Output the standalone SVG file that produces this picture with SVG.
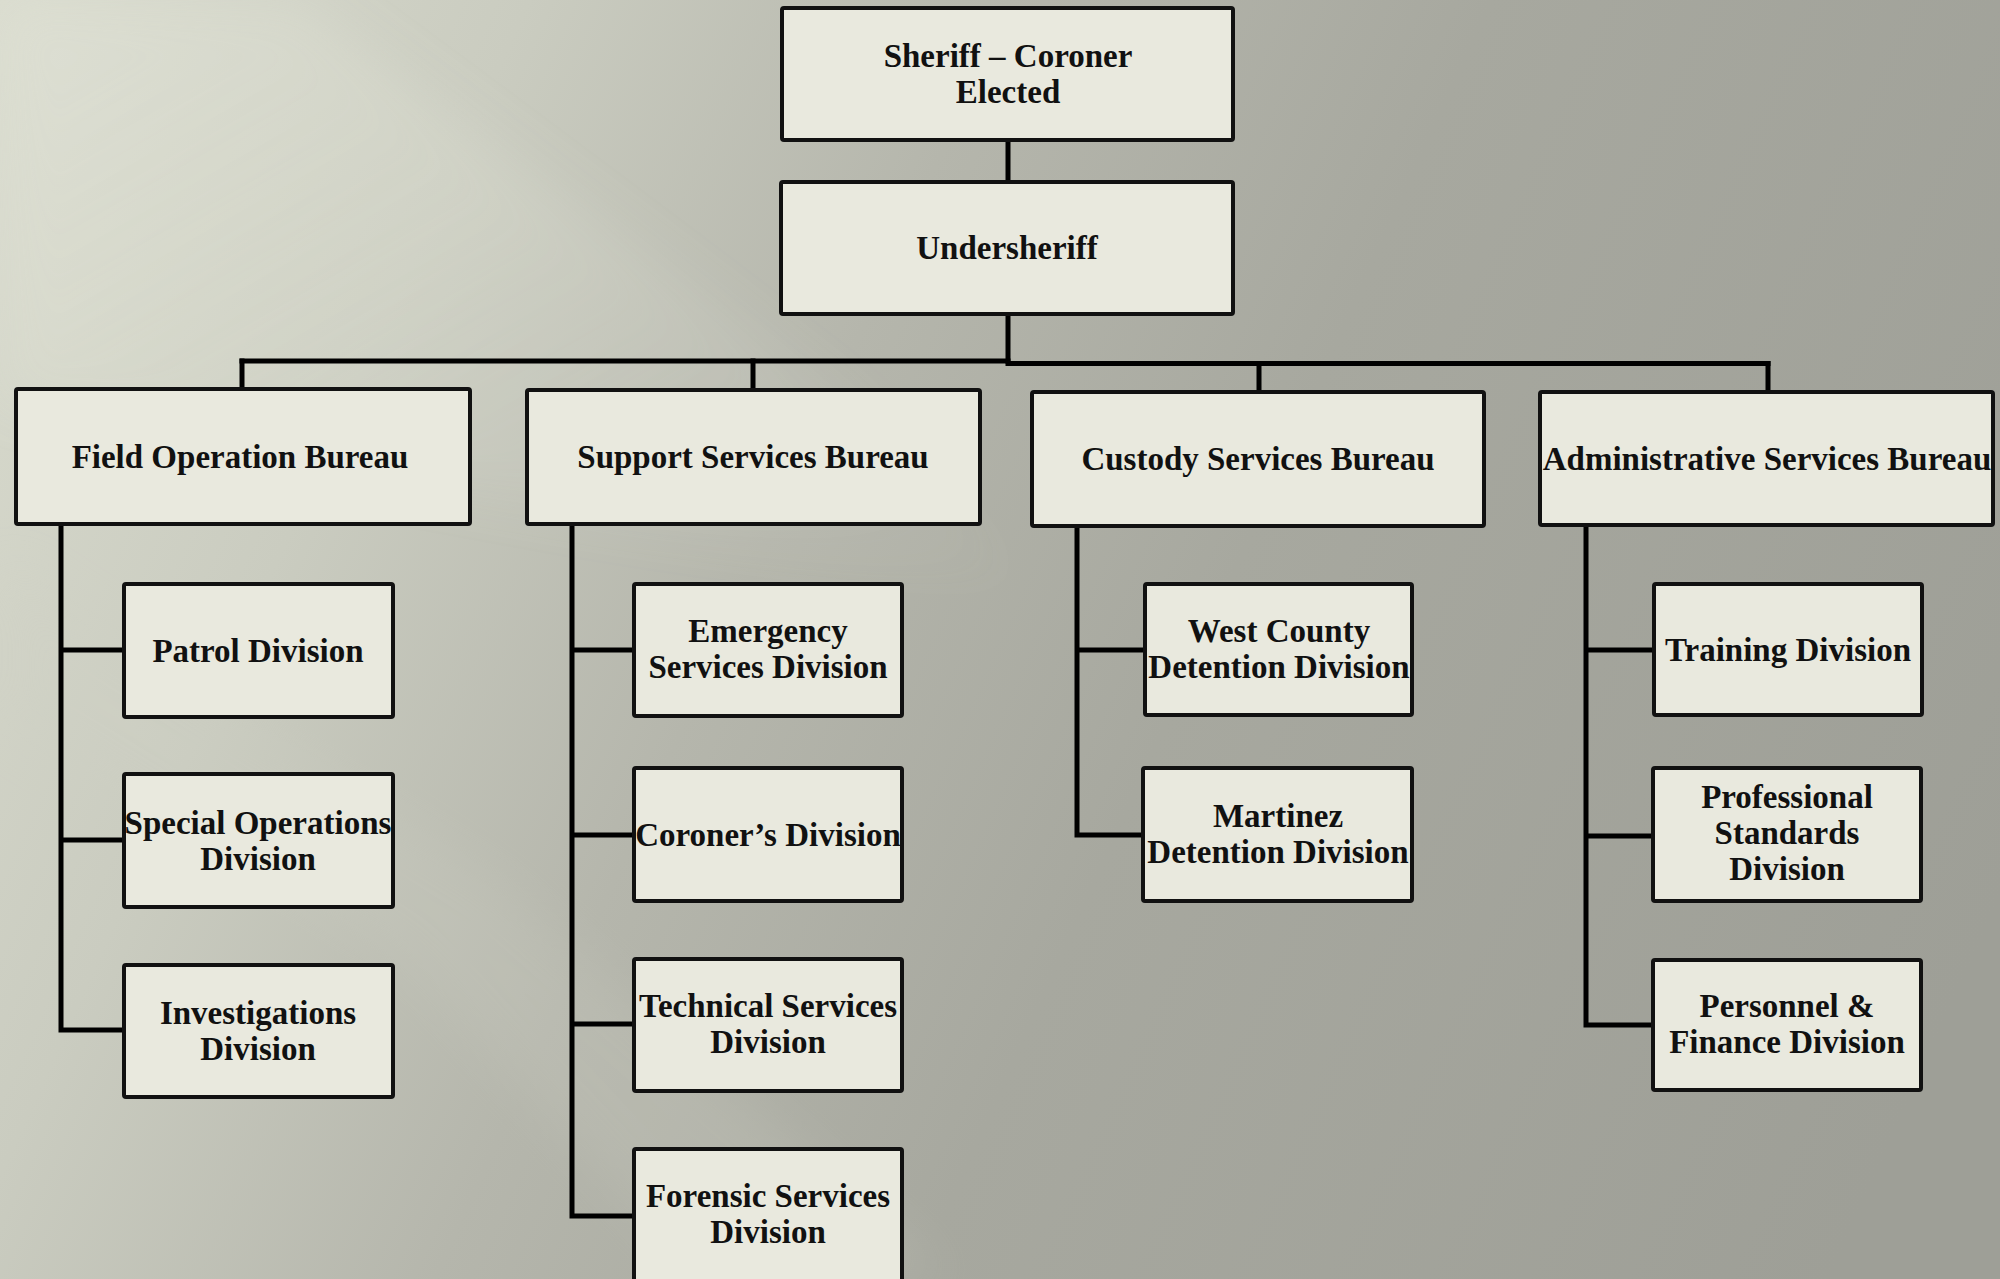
<svg xmlns="http://www.w3.org/2000/svg" width="2000" height="1279" viewBox="0 0 2000 1279">
<defs>
<linearGradient id="bg" x1="0" y1="0" x2="2000" y2="900" gradientUnits="userSpaceOnUse">
<stop offset="0" stop-color="#dadccf"/>
<stop offset="0.22" stop-color="#caccc0"/>
<stop offset="0.42" stop-color="#b5b6ac"/>
<stop offset="0.62" stop-color="#a7a89f"/>
<stop offset="1" stop-color="#9e9f97"/>
</linearGradient>
<linearGradient id="band" x1="0" y1="0" x2="1" y2="1">
<stop offset="0" stop-color="#e2e4d8" stop-opacity="0.6"/>
<stop offset="1" stop-color="#e2e4d8" stop-opacity="0"/>
</linearGradient>
<filter id="blur" x="-20%" y="-20%" width="140%" height="140%"><feGaussianBlur stdDeviation="25"/></filter>
<style>
.box{fill:#e9e9de;stroke:#111;stroke-width:4}
.t{font-family:"Liberation Serif","Times New Roman",serif;font-weight:bold;font-size:33px;fill:#111;text-anchor:middle}
.c{fill:none;stroke:#000;stroke-width:5;stroke-linecap:square}
</style>
</defs>
<rect width="2000" height="1279" fill="url(#bg)"/>
<polygon points="0,0 300,0 850,400 1050,600 600,520 0,400" fill="url(#band)" filter="url(#blur)" opacity="0.7"/>
<polygon points="0,560 0,720 400,960 700,1279 950,1279 500,880" fill="#cfd0c5" opacity="0.2" filter="url(#blur)"/>

<g id="connectors">
<path class="c" d="M1008,140V182"/>
<path class="c" d="M1008,314V361"/>
<path class="c" d="M242,361H1008"/>
<path class="c" d="M1008,363.5H1768"/>
<path class="c" d="M242,361V389M753,361V390M1259,363.5V392M1768,363.5V392"/>
<path class="c" d="M61,524V1030M61,650H124M61,840H124M61,1030H124"/>
<path class="c" d="M572,524V1216M572,650H634M572,835H634M572,1024H634M572,1216H634"/>
<path class="c" d="M1077,526V835M1077,650H1145M1077,835H1143"/>
<path class="c" d="M1586,525V1025M1586,650H1654M1586,836H1653M1586,1025H1653"/>
</g>

<g id="sheriff"><rect class="box" x="782" y="8" width="451" height="132" rx="2"/><text class="t" x="1008" y="67">Sheriff – Coroner</text><text class="t" x="1008" y="103">Elected</text></g>
<g id="undersheriff"><rect class="box" x="781" y="182" width="452" height="132" rx="2"/><text class="t" x="1007" y="259">Undersheriff</text></g>

<g id="field-operation-bureau"><rect class="box" x="16" y="389" width="454" height="135" rx="2"/><text class="t" x="240" y="468">Field Operation Bureau</text></g>
<g id="support-services-bureau"><rect class="box" x="527" y="390" width="453" height="134" rx="2"/><text class="t" x="753" y="468">Support Services Bureau</text></g>
<g id="custody-services-bureau"><rect class="box" x="1032" y="392" width="452" height="134" rx="2"/><text class="t" x="1258" y="470">Custody Services Bureau</text></g>
<g id="administrative-services-bureau"><rect class="box" x="1540" y="392" width="453" height="133" rx="2"/><text class="t" x="1767" y="470">Administrative Services Bureau</text></g>

<g id="patrol-division"><rect class="box" x="124" y="584" width="269" height="133" rx="2"/><text class="t" x="258" y="662">Patrol Division</text></g>
<g id="special-operations-division"><rect class="box" x="124" y="774" width="269" height="133" rx="2"/><text class="t" x="258" y="834">Special Operations</text><text class="t" x="258" y="870">Division</text></g>
<g id="investigations-division"><rect class="box" x="124" y="965" width="269" height="132" rx="2"/><text class="t" x="258" y="1024">Investigations</text><text class="t" x="258" y="1060">Division</text></g>

<g id="emergency-services-division"><rect class="box" x="634" y="584" width="268" height="132" rx="2"/><text class="t" x="768" y="642">Emergency</text><text class="t" x="768" y="678">Services Division</text></g>
<g id="coroners-division"><rect class="box" x="634" y="768" width="268" height="133" rx="2"/><text class="t" x="768" y="846">Coroner’s Division</text></g>
<g id="technical-services-division"><rect class="box" x="634" y="959" width="268" height="132" rx="2"/><text class="t" x="768" y="1017">Technical Services</text><text class="t" x="768" y="1053">Division</text></g>
<g id="forensic-services-division"><rect class="box" x="634" y="1149" width="268" height="134" rx="2"/><text class="t" x="768" y="1207">Forensic Services</text><text class="t" x="768" y="1243">Division</text></g>

<g id="west-county-detention-division"><rect class="box" x="1145" y="584" width="267" height="131" rx="2"/><text class="t" x="1279" y="642">West County</text><text class="t" x="1279" y="678">Detention Division</text></g>
<g id="martinez-detention-division"><rect class="box" x="1143" y="768" width="269" height="133" rx="2"/><text class="t" x="1278" y="827">Martinez</text><text class="t" x="1278" y="863">Detention Division</text></g>

<g id="training-division"><rect class="box" x="1654" y="584" width="268" height="131" rx="2"/><text class="t" x="1788" y="661">Training Division</text></g>
<g id="professional-standards-division"><rect class="box" x="1653" y="768" width="268" height="133" rx="2"/><text class="t" x="1787" y="808">Professional</text><text class="t" x="1787" y="844">Standards</text><text class="t" x="1787" y="880">Division</text></g>
<g id="personnel-finance-division"><rect class="box" x="1653" y="960" width="268" height="130" rx="2"/><text class="t" x="1787" y="1017">Personnel &amp;</text><text class="t" x="1787" y="1053">Finance Division</text></g>
</svg>
